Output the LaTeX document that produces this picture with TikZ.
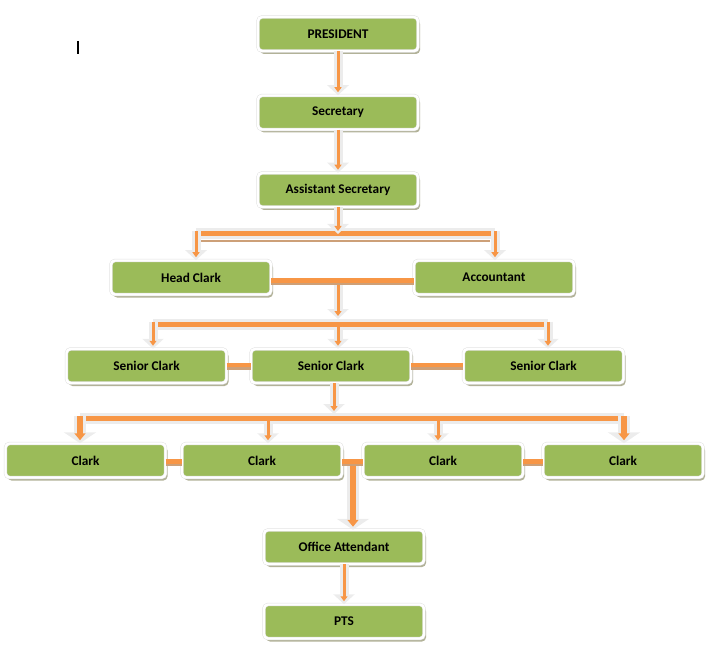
\documentclass[tikz,border=0pt]{standalone}
\usepackage{fontspec}
\setmainfont{Carlito}
\usetikzlibrary{arrows.meta,shadows,positioning}
\definecolor{boxgreen}{RGB}{155,187,89}
\definecolor{linkorange}{RGB}{247,150,70}
\definecolor{boxshadow}{RGB}{178,178,152}
\definecolor{linkshadow}{RGB}{205,160,120}
\definecolor{linkedge}{RGB}{236,236,236}

\begin{document}
\begin{tikzpicture}[x=1pt,y=-1pt,
  post/.style={rectangle, rounded corners=4pt, fill=boxgreen, draw=black!12,
    double=white, double distance=2.4pt, line width=0.5pt,
    minimum width=160pt, minimum height=34pt, inner sep=0pt,
    font=\fontsize{13.3}{15}\selectfont\bfseries,
    drop shadow={shadow xshift=2pt, shadow yshift=-3pt, fill=boxshadow, opacity=1}},
  down/.style={draw=linkorange, line width=3pt, shorten >=3pt,
    -{Triangle[length=5pt,width=7pt]},
    preaction={draw=linkedge, line width=9pt, shorten >=0pt,
      -{Triangle[length=10pt,width=21pt]}}},
  bigdown/.style={draw=linkorange, line width=6pt, shorten >=3pt,
    -{Triangle[length=7pt,width=11pt]},
    preaction={draw=linkedge, line width=12pt, shorten >=0pt,
      -{Triangle[length=11pt,width=32pt]}}},
  bar/.style={draw=linkorange, line width=5pt,
    preaction={draw=linkedge, line width=11pt}},
  link/.style={draw=linkshadow, line width=7pt,
    postaction={draw=linkorange, line width=4.5pt, transform canvas={yshift=1pt}}}]
\useasboundingbox (0,0) rectangle (713,650);

% text cursor left in the page
\draw[line width=1.5pt] (78,41) -- (78,54);

% posts
\node[post] (pres) at (338,34) {PRESIDENT};
\node[post] (sec) at (338,112.5) {Secretary};
\node[post] (asec) at (338,190) {Assistant Secretary};
\node[post] (head) at (191,277.5) {Head Clark};
\node[post] (acct) at (494,277.5) {Accountant};
\node[post] (sc1) at (146.5,366) {Senior Clark};
\node[post] (sc2) at (331,366) {Senior Clark};
\node[post] (sc3) at (543.5,366) {Senior Clark};
\node[post] (cl1) at (85.5,460.5) {Clark};
\node[post] (cl2) at (262,460.5) {Clark};
\node[post] (cl3) at (443,460.5) {Clark};
\node[post] (cl4) at (623,460.5) {Clark};
\node[post] (oa) at (344,547) {Office Attendant};
\node[post] (pts) at (344,621.5) {PTS};

% junction points
\coordinate (j1) at (338,234);
\coordinate (b1l) at (196,231.5);
\coordinate (b1r) at (495,231.5);
\coordinate (j2) at (338,285);
\coordinate (j3) at (338,319);
\coordinate (b2l) at (153,321.5);
\coordinate (b2m) at (338,326.5);
\coordinate (b2r) at (548,321.5);
\coordinate (j4) at (334,414);
\coordinate (b3a) at (80,416);
\coordinate (b3b) at (268,421);
\coordinate (b3c) at (438,421);
\coordinate (b3d) at (624,416);
\coordinate (j5) at (353,466);

% top of the chart
\draw[down] (pres.south) -- (sec.north);
\draw[down] (sec.south) -- (asec.north);

% first level
\draw[linkshadow, line width=2pt] (201,241) -- (490,241);
\draw[bar] (196,234) -- (495,234);
\draw[down] (asec.south) -- (j1);
\draw[down] (b1l) -- (b1l |- head.north);
\draw[down] (b1r) -- (b1r |- acct.north);
\draw[link] ([yshift=-4pt]head.east) -- ([yshift=-4pt]acct.west);

% senior clarks
\draw[bar] (153,324) -- (548,324);
\draw[down] (j2) -- (j3);
\draw[down] (b2l) -- (b2l |- sc1.north);
\draw[down] (b2m) -- (b2m |- sc2.north);
\draw[down] (b2r) -- (b2r |- sc3.north);
\draw[link] (sc1.east) -- (sc2.west);
\draw[link] (sc2.east) -- (sc3.west);

% clarks
\draw[bar] (80,418.5) -- (624,418.5);
\draw[down] (sc2.south -| j4) -- (j4);
\draw[bigdown] (b3a) -- (b3a |- cl1.north);
\draw[down] (b3b) -- (b3b |- cl2.north);
\draw[down] (b3c) -- (b3c |- cl3.north);
\draw[bigdown] (b3d) -- (b3d |- cl4.north);
\draw[link] ([yshift=-2pt]cl1.east) -- ([yshift=-2pt]cl2.west);
\draw[link] ([yshift=-2pt]cl2.east) -- ([yshift=-2pt]cl3.west);
\draw[link] ([yshift=-2pt]cl3.east) -- ([yshift=-2pt]cl4.west);

% bottom of the chart
\draw[bigdown] (j5) -- (j5 |- oa.north);
\draw[down] (oa.south) -- (pts.north);
\end{tikzpicture}
\end{document}
